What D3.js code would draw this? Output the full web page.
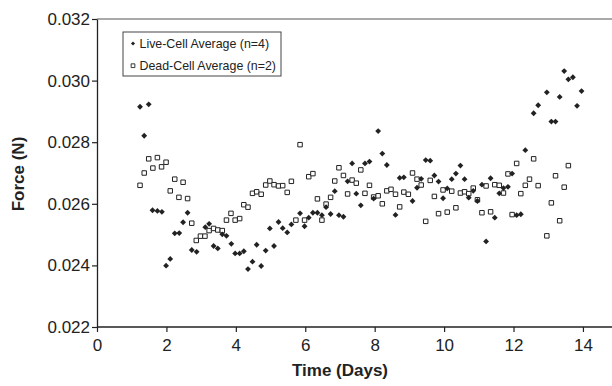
<!DOCTYPE html>
<html>
<head>
<meta charset="utf-8">
<script src="https://cdn.jsdelivr.net/npm/d3@7/dist/d3.min.js"></script>
<style>
  body { margin: 0; background: #fff; }
  svg { display: block; font-family: "Liberation Sans", Arial, sans-serif; }
</style>
</head>
<body>
<svg id="chart" width="612" height="386"></svg>
<script>
// series names
var seriesNames = ["Live-Cell Average (n=4)", "Dead-Cell Average (n=2)"];

// Live-cell average: time (days) and force (N)
var liveDays = [1.24, 1.36, 1.49, 1.60, 1.74, 1.87, 1.99, 2.11, 2.24, 2.37, 2.48, 2.61, 2.73, 2.87,
  3.12, 3.23, 3.36, 3.48, 3.61, 3.73, 3.87, 3.98, 4.11, 4.23, 4.35, 4.48, 4.60, 4.73, 4.86, 4.98,
  5.10, 5.23, 5.35, 5.48, 5.60, 5.85, 5.98, 6.10, 6.22, 6.35, 6.48, 6.60, 6.73, 6.85, 6.97, 7.10,
  7.22, 7.35, 7.47, 7.60, 7.72, 7.85, 7.97, 8.10, 8.22, 8.35, 8.60, 8.72, 8.84, 9.09, 9.22, 9.34,
  9.47, 9.60, 9.72, 9.84, 9.97, 10.09, 10.22, 10.34, 10.47, 10.59, 10.71, 10.84, 10.96, 11.09,
  11.21, 11.34, 11.46, 11.59, 11.71, 11.84, 11.96, 12.09, 12.21, 12.34, 12.58, 12.71, 12.96,
  13.09, 13.21, 13.33, 13.46, 13.58, 13.71, 13.83, 13.96];
var liveForce = [0.02915, 0.02821, 0.02923, 0.02579, 0.02577, 0.02574, 0.02399, 0.02421, 0.02504,
  0.02505, 0.02540, 0.02571, 0.02450, 0.02444, 0.02524, 0.02535, 0.02463, 0.02455, 0.02501,
  0.02496, 0.02470, 0.02439, 0.02439, 0.02446, 0.02388, 0.02412, 0.02467, 0.02398, 0.02448,
  0.02520, 0.02463, 0.02541, 0.02521, 0.02507, 0.02533, 0.02569, 0.02527, 0.02555, 0.02571,
  0.02571, 0.02563, 0.02589, 0.02567, 0.02641, 0.02563, 0.02558, 0.02673, 0.02731, 0.02633,
  0.02595, 0.02731, 0.02737, 0.02617, 0.02836, 0.02763, 0.02726, 0.02564, 0.02684, 0.02686,
  0.02609, 0.02652, 0.02681, 0.02742, 0.02740, 0.02692, 0.02672, 0.02618, 0.02650, 0.02680,
  0.02698, 0.02724, 0.02680, 0.02620, 0.02642, 0.02609, 0.02662, 0.02478, 0.02683, 0.02555,
  0.02634, 0.02651, 0.02655, 0.02698, 0.02563, 0.02566, 0.02774, 0.02894, 0.02920, 0.02962,
  0.02867, 0.02867, 0.02947, 0.03031, 0.03004, 0.03011, 0.02918, 0.02966];

// Dead-cell average: time (days) and force (N)
var deadDays = [1.24, 1.36, 1.49, 1.61, 1.74, 1.86, 1.99, 2.11, 2.24, 2.36, 2.48, 2.61, 2.73, 2.86,
  2.98, 3.11, 3.23, 3.36, 3.48, 3.61, 3.73, 3.86, 3.98, 4.11, 4.23, 4.35, 4.48, 4.60, 4.73, 4.86,
  4.98, 5.10, 5.23, 5.35, 5.48, 5.60, 5.73, 5.85, 5.98, 6.10, 6.22, 6.35, 6.48, 6.60, 6.73, 6.85,
  6.97, 7.10, 7.22, 7.35, 7.47, 7.60, 7.72, 7.85, 7.97, 8.10, 8.22, 8.35, 8.47, 8.60, 8.72, 8.84,
  8.97, 9.09, 9.22, 9.34, 9.47, 9.60, 9.72, 9.84, 9.97, 10.09, 10.22, 10.34, 10.47, 10.59, 10.71,
  10.84, 10.96, 11.09, 11.21, 11.34, 11.46, 11.59, 11.71, 11.84, 11.96, 12.09, 12.21, 12.34,
  12.46, 12.58, 12.71, 12.96, 13.09, 13.21, 13.33, 13.46, 13.58];
var deadForce = [0.02660, 0.02700, 0.02746, 0.02716, 0.02750, 0.02720, 0.02735, 0.02642, 0.02680,
  0.02621, 0.02670, 0.02617, 0.02537, 0.02481, 0.02495, 0.02495, 0.02513, 0.02520, 0.02515,
  0.02513, 0.02547, 0.02569, 0.02547, 0.02552, 0.02597, 0.02589, 0.02634, 0.02639, 0.02631,
  0.02661, 0.02674, 0.02662, 0.02658, 0.02659, 0.02637, 0.02673, 0.02547, 0.02792, 0.02547,
  0.02688, 0.02698, 0.02616, 0.02547, 0.02599, 0.02621, 0.02674, 0.02717, 0.02692, 0.02632,
  0.02677, 0.02667, 0.02710, 0.02634, 0.02660, 0.02622, 0.02626, 0.02600, 0.02642, 0.02647,
  0.02631, 0.02590, 0.02638, 0.02631, 0.02700, 0.02680, 0.02661, 0.02543, 0.02676, 0.02624,
  0.02568, 0.02645, 0.02573, 0.02641, 0.02587, 0.02635, 0.02639, 0.02633, 0.02651, 0.02613,
  0.02571, 0.02658, 0.02574, 0.02662, 0.02660, 0.02635, 0.02697, 0.02565, 0.02731, 0.02633,
  0.02660, 0.02680, 0.02746, 0.02659, 0.02496, 0.02603, 0.02691, 0.02545, 0.02654, 0.02724];

// axis ticks
var xTicks = [0, 2, 4, 6, 8, 10, 12, 14];
var yTicks = [0.022, 0.024, 0.026, 0.028, 0.030, 0.032];

var svg = d3.select("#chart");
var plotLeft = 97, plotTop = 19, plotBottom = 327;

var x = d3.scaleLinear().domain([0, 16]).range([plotLeft, plotLeft + 16 * 34.71]);
var y = d3.scaleLinear().domain([0.022, 0.032]).range([plotBottom, plotTop]);

// top frame line of the plot area
svg.append("line")
    .attr("x1", plotLeft).attr("x2", 612)
    .attr("y1", plotTop).attr("y2", plotTop)
    .attr("stroke", "#8c8c8c").attr("stroke-width", 1.5);

// axes
var xAxis = svg.append("g")
    .attr("transform", "translate(0," + plotBottom + ")")
    .call(d3.axisBottom(x).tickValues(xTicks).tickSize(5).tickSizeOuter(0).tickFormat(d3.format("d")));
xAxis.select(".domain").attr("d", "M" + plotLeft + ",0H612");

var yAxis = svg.append("g")
    .attr("transform", "translate(" + plotLeft + ",0)")
    .call(d3.axisLeft(y).tickValues(yTicks).tickSize(5).tickSizeOuter(0).tickFormat(d3.format(".3f")));

svg.selectAll(".domain").attr("stroke", "#222").attr("stroke-width", 1.3);
svg.selectAll(".tick line").attr("stroke", "#222").attr("stroke-width", 1.2);
svg.selectAll(".tick text")
    .attr("font-family", "Liberation Sans, Arial, sans-serif")
    .attr("font-size", "17px").attr("fill", "#222");
xAxis.selectAll(".tick text").attr("dy", "0.95em");
yAxis.selectAll(".tick text").attr("x", -7);

// axis titles
svg.append("text")
    .attr("x", 340).attr("y", 376)
    .attr("text-anchor", "middle")
    .attr("font-size", "17px").attr("font-weight", "bold").attr("fill", "#222")
    .text("Time (Days)");

svg.append("text")
    .attr("transform", "translate(24,174) rotate(-90)")
    .attr("text-anchor", "middle")
    .attr("font-size", "17px").attr("font-weight", "bold").attr("fill", "#222")
    .text("Force (N)");

// markers
var diamond = d3.symbol().type(d3.symbolSquare).size(17);
var square = d3.symbol().type(d3.symbolSquare).size(20);

var live = liveDays.map(function(d, i) { return { t: d, f: liveForce[i] }; });
var dead = deadDays.map(function(d, i) { return { t: d, f: deadForce[i] }; });

svg.append("g").selectAll("path").data(dead).enter().append("path")
    .attr("d", square)
    .attr("transform", function(d) { return "translate(" + x(d.t) + "," + y(d.f) + ")"; })
    .attr("fill", "#fff").attr("stroke", "#222").attr("stroke-width", 1);

svg.append("g").selectAll("path").data(live).enter().append("path")
    .attr("d", diamond)
    .attr("transform", function(d) { return "translate(" + x(d.t) + "," + y(d.f) + ") rotate(45)"; })
    .attr("fill", "#222");

// legend
var legend = svg.append("g").attr("transform", "translate(123,32)");
legend.append("rect")
    .attr("width", 158).attr("height", 44)
    .attr("fill", "#fff").attr("stroke", "#444").attr("stroke-width", 1);

legend.append("path")
    .attr("d", d3.symbol().type(d3.symbolSquare).size(9))
    .attr("transform", "translate(10,11.5) rotate(45)")
    .attr("fill", "#222");
legend.append("path")
    .attr("d", d3.symbol().type(d3.symbolSquare).size(14))
    .attr("transform", "translate(10,33.7)")
    .attr("fill", "#fff").attr("stroke", "#222").attr("stroke-width", 0.9);

legend.selectAll("text.lg").data(seriesNames).enter().append("text")
    .attr("class", "lg")
    .attr("x", 16.5).attr("y", function(d, i) { return 16 + i * 22.3; })
    .attr("font-size", "12.4px").attr("fill", "#222")
    .text(function(d) { return d; });
</script>
</body>
</html>
